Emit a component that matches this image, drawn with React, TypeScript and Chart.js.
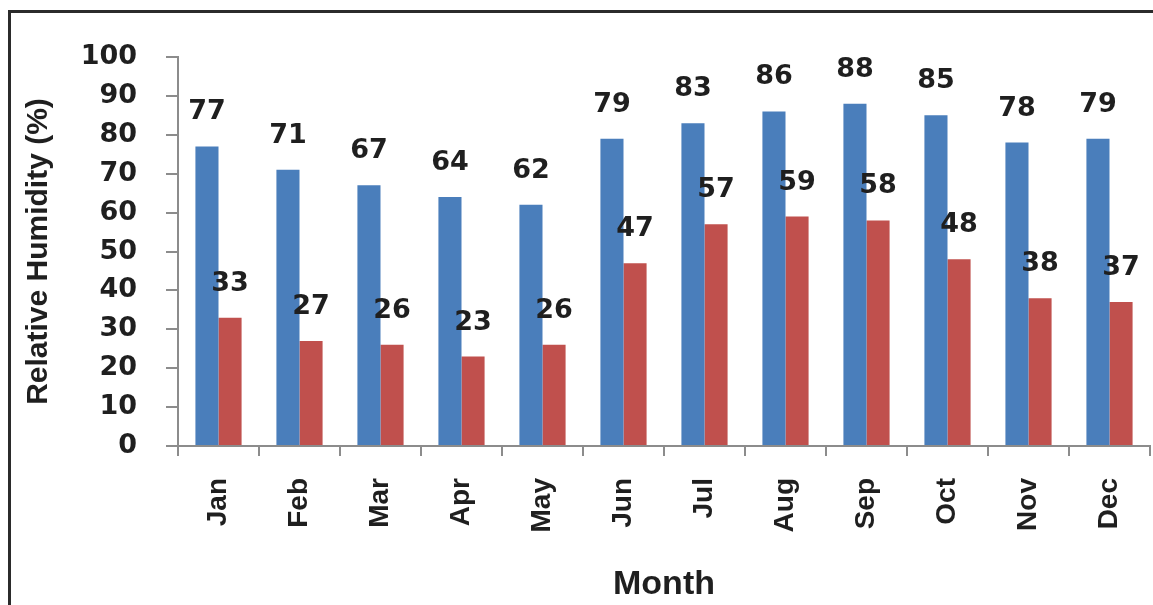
import React, { useEffect, useRef } from "react";
import { Chart, registerables } from "chart.js";

Chart.register(...registerables);

const months = ["Jan", "Feb", "Mar", "Apr", "May", "Jun", "Jul", "Aug", "Sep", "Oct", "Nov", "Dec"];
const maxHumidity = [77, 71, 67, 64, 62, 79, 83, 86, 88, 85, 78, 79];
const minHumidity = [33, 27, 26, 23, 26, 47, 57, 59, 58, 48, 38, 37];
const yMin = 0;
const yMax = 100;
const yStep = 10;

const BLUE = "#4A7EBB";
const RED = "#C0504D";
const AXIS = "#8C8C8C";
const TEXT = "#1F1F1F";
const DIGIT_FONT = "'DejaVu Sans', sans-serif";
const TEXT_FONT = "'Liberation Sans', Arial, sans-serif";

const valueLabels = {
  id: "valueLabels",
  afterDatasetsDraw(chart: any) {
    const ctx = chart.ctx;
    ctx.save();
    ctx.font = `bold 27px ${DIGIT_FONT}`;
    ctx.fillStyle = TEXT;
    ctx.textAlign = "center";
    ctx.textBaseline = "middle";
    chart.data.datasets.forEach((ds: any, i: number) => {
      const meta = chart.getDatasetMeta(i);
      meta.data.forEach((bar: any, j: number) => {
        ctx.fillText(String(ds.data[j]), bar.x, bar.y - 34);
      });
    });
    ctx.restore();
  },
};

export default function App() {
  const ref = useRef<HTMLCanvasElement | null>(null);
  useEffect(() => {
    if (!ref.current) return;
    const chart = new Chart(ref.current, {
      type: "bar",
      data: {
        labels: months,
        datasets: [
          { label: "Maximum", data: maxHumidity, backgroundColor: BLUE, categoryPercentage: 0.57, barPercentage: 1 },
          { label: "Minimum", data: minHumidity, backgroundColor: RED, categoryPercentage: 0.57, barPercentage: 1 },
        ],
      },
      options: {
        responsive: false,
        animation: false,
        layout: { padding: { top: 44, right: 3, left: 0, bottom: 0 } },
        plugins: { legend: { display: false }, tooltip: { enabled: false } },
        scales: {
          x: {
            grid: { drawOnChartArea: false, drawTicks: true, tickLength: 10, color: AXIS, lineWidth: 2, offset: true },
            border: { display: true, color: AXIS, width: 2 },
            ticks: {
              minRotation: 90,
              maxRotation: 90,
              padding: 22,
              color: TEXT,
              font: { family: TEXT_FONT, size: 28, weight: "bold" },
            },
            title: {
              display: true,
              text: "Month",
              color: TEXT,
              font: { family: TEXT_FONT, size: 34, weight: "bold" },
              padding: { top: 0, bottom: 0 },
            },
            afterFit(scale: any) {
              scale.height = 159;
              scale.paddingLeft = 0;
              scale.paddingRight = 0;
            },
          },
          y: {
            min: yMin,
            max: yMax,
            grid: { drawOnChartArea: false, drawTicks: true, tickLength: 12, color: AXIS, lineWidth: 2 },
            border: { display: true, color: AXIS, width: 2 },
            ticks: {
              stepSize: yStep,
              padding: 29,
              color: TEXT,
              font: { family: DIGIT_FONT, size: 27, weight: "bold" },
            },
            title: {
              display: true,
              text: "Relative Humidity (%)",
              color: TEXT,
              font: { family: TEXT_FONT, size: 30, weight: "bold" },
              padding: { top: 10, bottom: 0 },
            },
            afterFit(scale: any) {
              scale.width = 167;
              scale.paddingTop = 0;
              scale.paddingBottom = 0;
            },
          },
        },
      },
      plugins: [valueLabels],
    });
    return () => chart.destroy();
  }, []);

  return (
    <div
      style={{
        position: "fixed",
        left: 8,
        top: 10,
        width: 1145,
        height: 595,
        boxSizing: "border-box",
        borderLeft: "3px solid #2b2b2b",
        borderTop: "3px solid #2b2b2b",
        background: "#fff",
        overflow: "hidden",
      }}
    >
      <canvas ref={ref} width={1142} height={592} style={{ display: "block" }} />
    </div>
  );
}
